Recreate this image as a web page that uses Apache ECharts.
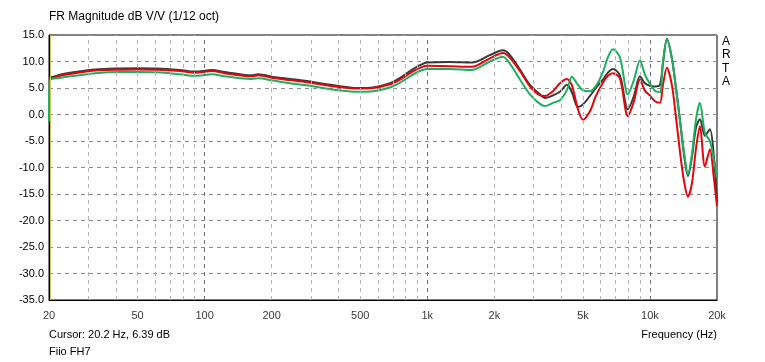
<!DOCTYPE html>
<html><head><meta charset="utf-8">
<script src="https://cdn.jsdelivr.net/npm/echarts@6/dist/echarts.min.js"></script>
<style>html,body{margin:0;padding:0;background:#fff}#c{width:765px;height:362px}</style>
</head><body><div id="c"></div>
<script>
const freqs = [20,20.2,22.4,26.2,32.2,41.7,50,61,77.5,90.5,102,108,123,144,163,174,203,242,288,340,405,483,570,680,754,836,926,996,1264,1587,1910,2186,2350,2606,2890,3204,3375,3666,3942,4236,4460,4748,5000,5376,5718,6148,6472,6818,7328,7960,8472,9014,9490,9992,10522,11080,11430,11914,12552,13084,13636,14212,14810,15436,16088,16760,17650,18580,19368,20000];
const darkCurve = [7.0,7.0,7.5,8.0,8.5,8.7,8.75,8.7,8.4,8.1,8.3,8.4,8.0,7.6,7.4,7.6,7.1,6.7,6.3,5.8,5.35,5.0,5.1,5.9,6.9,8.2,9.3,9.8,9.9,9.8,11.2,12.1,11.2,8.5,5.6,3.8,3.1,3.6,4.3,5.6,4.2,1.4,1.9,3.5,5.0,6.6,7.9,8.6,7.4,1.0,3.5,7.2,5.9,5.4,5.3,5.6,9.5,14.3,10.5,5.0,-1.0,-7.5,-11.6,-8.0,-2.5,-0.9,-4.0,-2.8,-8.0,-16.5];
const redCurve = [6.8,6.8,7.3,7.8,8.3,8.45,8.5,8.45,8.2,7.9,8.1,8.2,7.8,7.4,7.2,7.4,6.9,6.5,6.1,5.6,5.15,4.9,5.0,5.7,6.6,7.8,8.8,9.2,9.1,9.0,10.6,11.6,10.7,8.2,5.3,3.6,3.5,4.4,5.9,6.7,5.5,1.0,-1.0,0.6,3.5,6.0,7.3,7.8,6.8,-0.3,2.5,6.6,4.5,3.6,2.5,2.2,5.5,8.8,5.5,-0.5,-7.0,-12.5,-15.5,-13.0,-6.5,-2.2,-9.8,-6.6,-12.0,-17.3];
const greenCurve = [-1.3,6.4,6.9,7.3,7.8,8.0,8.0,7.95,7.6,7.3,7.5,7.6,7.2,6.85,6.7,6.85,6.4,5.9,5.5,5.0,4.55,4.3,4.4,5.1,6.0,7.2,8.2,8.6,8.6,8.4,10.0,10.9,9.6,6.6,3.8,2.0,1.6,2.2,2.7,4.6,7.1,5.6,4.6,4.4,5.4,8.0,10.8,12.3,10.8,3.8,6.5,10.2,7.5,5.8,4.5,4.2,9.8,14.2,10.5,5.0,-1.2,-7.0,-11.3,-7.5,-1.0,2.2,-3.5,-5.0,-8.5,-12.0];
const xTickValues = [20,50,100,200,500,1000,2000,5000,10000,20000];
const xTickLabels = ['20','50','100','200','500','1k','2k','5k','10k','20k'];
const minorGridFreqs = [30,40,50,60,70,80,90,200,300,400,500,600,700,800,900,2000,3000,4000,5000,6000,7000,8000,9000];
const decadeGridFreqs = [100,1000,10000];
const cursorFreq = 20.2;

const chart = echarts.init(document.getElementById('c'), null, {renderer:'canvas'});
const F = 'Liberation Sans, Arial, sans-serif';
const mk = arr => freqs.map((f,i)=>[f, arr[i]]);
const lineSeries = (name, arr, color) => ({
  name, type:'line', data: mk(arr), showSymbol:false, smooth:0.3,
  lineStyle:{color, width:2}, itemStyle:{color}, animation:false, silent:true, z:3
});
chart.setOption({
  animation:false,
  grid:{left:49, right:48, top:35, bottom:62, show:true, borderColor:'#000', borderWidth:1, backgroundColor:'#fff'},
  xAxis:{type:'log', min:20, max:20000, axisLabel:{show:false}, axisTick:{show:false}, splitLine:{show:false}, minorSplitLine:{show:false}, axisLine:{show:true, onZero:false, lineStyle:{color:'#000'}}},
  yAxis:{type:'value', min:-35, max:15, interval:5,
    axisLabel:{formatter:v=>v.toFixed(1), color:'#000', fontSize:11, fontFamily:F, margin:5},
    axisTick:{show:false}, axisLine:{show:true, onZero:false, lineStyle:{color:'#000'}},
    splitLine:{show:true, lineStyle:{color:'#8c8c8c', type:[4,4], width:1}}},
  graphic:[
    {type:'text', left:49, top:11, style:{text:'FR Magnitude dB V/V (1/12 oct)', font:'12px '+F, fill:'#000'}},
    {type:'text', left:722, top:35, style:{text:'A\nR\nT\nA', font:'12px '+F, fill:'#000', lineHeight:13.4}},
    {type:'text', left:49, top:329, style:{text:'Cursor: 20.2 Hz, 6.39 dB', font:'11px '+F, fill:'#000'}},
    {type:'text', right:48, top:329, style:{text:'Frequency (Hz)', font:'11px '+F, fill:'#000'}},
    {type:'text', left:49, top:346, style:{text:'Fiio FH7', font:'11px '+F, fill:'#000'}}
  ],
  series:[
    {type:'line', data:[], silent:true, z:1,
      markLine:{silent:true, symbol:['none','none'], animation:false, label:{show:false},
        data:[
          ...minorGridFreqs.map(f=>({xAxis:f, lineStyle:{color:'#b4b4b4', type:[4,4], width:1}})),
          ...decadeGridFreqs.map(f=>({xAxis:f, lineStyle:{color:'#707070', type:[4,4], width:1}})),
          {xAxis:cursorFreq, lineStyle:{color:'#c8c850', type:'solid', width:1}}
        ]}},
    lineSeries('dark', darkCurve, '#3a3a3a'),
    lineSeries('red', redCurve, '#e3060c'),
    lineSeries('green', greenCurve, '#1daf5f'),
    {type:'scatter', symbolSize:0, silent:true, clip:false, z:5,
      data: xTickValues.map((f,i)=>({value:[f,-35], label:{formatter:xTickLabels[i]}})),
      label:{show:true, position:'bottom', distance:10, color:'#000', fontSize:11, fontFamily:F}}
  ]
});
</script></body></html>
